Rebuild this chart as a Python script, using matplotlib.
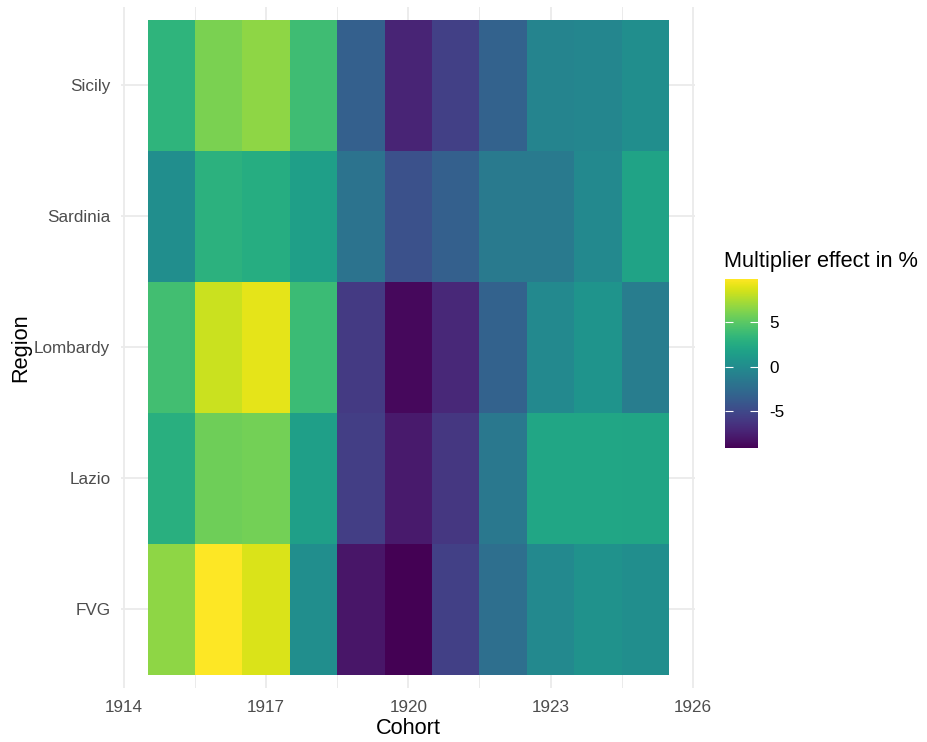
import numpy as np
import matplotlib
matplotlib.use("Agg")
import matplotlib.pyplot as plt

plt.rcParams['font.family'] = ['Liberation Sans', 'DejaVu Sans']
plt.rcParams['axes.unicode_minus'] = False

# cohorts (x) and regions (y, bottom to top)
cohorts = [1915, 1916, 1917, 1918, 1919, 1920, 1921, 1922, 1923, 1924, 1925]
regions = ["FVG", "Lazio", "Lombardy", "Sardinia", "Sicily"]

# multiplier effect in %, one list per region
fvg      = [6.6, 9.8, 8.7, 0.2, -8.0, -9.1, -5.5, -2.3, -0.2, 0.5, 0.2]
lazio    = [2.8, 5.6, 5.8, 1.5, -5.7, -7.8, -6.1, -1.5, 2.1, 2.1, 2.0]
lombardy = [4.1, 8.3, 9.0, 3.8, -5.9, -8.7, -7.0, -3.2, -0.2, 0.7, -1.2]
sardinia = [0.2, 3.0, 2.6, 1.5, -1.9, -4.4, -3.4, -1.4, -1.4, -0.2, 1.9]
sicily   = [3.2, 6.0, 6.6, 3.9, -3.4, -7.2, -5.5, -3.2, -0.6, -0.4, 0.2]

x_ticks = [1914, 1917, 1920, 1923, 1926]
cbar_ticks = [-5, 0, 5]

values = np.array([fvg, lazio, lombardy, sardinia, sicily])
x_edges = np.append(np.array(cohorts) - 0.5, cohorts[-1] + 0.5)
y_edges = np.arange(len(regions) + 1) + 0.5

fig = plt.figure(figsize=(9.27, 7.42), dpi=100)
ax = fig.add_axes([0.131, 0.0728, 0.619, 0.918])

# grid first (ggplot theme_minimal look)
grid_col = '#EBEBEB'
for v in np.arange(1914, 1926.1, 1.5):
    major = v in x_ticks
    ax.axvline(v, color=grid_col, lw=1.3 if major else 0.7, zorder=0)
for i in range(len(regions)):
    ax.axhline(i + 1, color=grid_col, lw=1.3, zorder=0)

mesh = ax.pcolormesh(x_edges, y_edges, values, cmap='viridis',
                     vmin=values.min(), vmax=values.max(), zorder=1)

span_x = x_edges[-1] - x_edges[0]
ax.set_xlim(x_edges[0] - 0.05 * span_x, x_edges[-1] + 0.05 * span_x)
ax.set_ylim(0.4, len(regions) + 0.6)
ax.set_xticks(x_ticks)
ax.set_xticklabels([str(t) for t in x_ticks])
ax.set_yticks(np.arange(1, len(regions) + 1))
ax.set_yticklabels(regions)
ax.tick_params(axis='x', length=0, labelsize=12.3, labelcolor='#4D4D4D', pad=9)
ax.tick_params(axis='y', length=0, labelsize=12.3, labelcolor='#4D4D4D', pad=8)
for s in ax.spines.values():
    s.set_visible(False)
ax.set_xlabel("Cohort", fontsize=15.7, labelpad=2)
ax.set_ylabel("Region", fontsize=15.7, labelpad=2)

# colour bar legend
cax = fig.add_axes([0.782, 0.396, 0.0356, 0.228])
cbar = fig.colorbar(mesh, cax=cax, ticks=cbar_ticks)
cbar.outline.set_visible(False)
cax.yaxis.set_ticks_position('both')
cax.tick_params(direction='in', length=6, width=0.8, color='white',
                labelsize=12.3, labelleft=False, labelright=True, pad=8)
cax.set_yticklabels([str(t) for t in cbar_ticks])
fig.text(0.781, 0.634, "Multiplier effect in %", fontsize=15.7, ha='left', va='bottom')

fig.savefig("out.png", dpi=100)
